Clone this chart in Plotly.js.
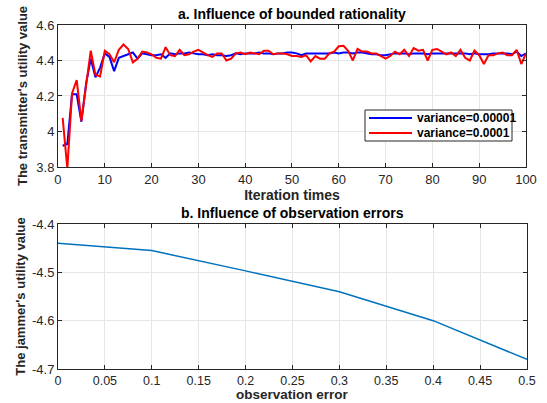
<!DOCTYPE html>
<html><head><meta charset="utf-8">
<script src="https://cdn.plot.ly/plotly-3.0.1.min.js"></script>
<style>html,body{margin:0;padding:0;background:#fff}#plot{width:547px;height:403px}</style>
</head><body><div id="plot"></div>
<script>
const iterations = Array.from({length:100},(_,i)=>i+1);
const blueSeries = [3.92,3.93,4.21,4.21,4.055,4.27,4.41,4.305,4.36,4.44,
4.42,4.34,4.415,4.425,4.435,4.445,4.41,4.44,4.435,4.43,
4.43,4.435,4.415,4.44,4.435,4.44,4.44,4.445,4.44,4.435,
4.435,4.43,4.435,4.43,4.43,4.425,4.43,4.44,4.435,4.44,
4.44,4.44,4.445,4.44,4.44,4.435,4.44,4.44,4.445,4.445,
4.44,4.43,4.44,4.44,4.44,4.44,4.44,4.44,4.445,4.44,
4.445,4.445,4.44,4.445,4.445,4.44,4.435,4.435,4.43,4.43,
4.435,4.44,4.44,4.44,4.435,4.44,4.44,4.44,4.435,4.44,
4.44,4.44,4.44,4.44,4.44,4.44,4.44,4.435,4.44,4.435,
4.435,4.435,4.44,4.44,4.44,4.44,4.435,4.45,4.425,4.44];
const redSeries = [4.077,3.79,4.215,4.29,4.06,4.25,4.455,4.32,4.31,4.455,
4.435,4.39,4.46,4.49,4.465,4.39,4.41,4.45,4.445,4.435,
4.415,4.41,4.475,4.43,4.425,4.46,4.43,4.435,4.45,4.46,
4.445,4.43,4.42,4.44,4.44,4.40,4.41,4.44,4.445,4.435,
4.445,4.44,4.435,4.455,4.455,4.435,4.44,4.44,4.435,4.425,
4.425,4.42,4.43,4.395,4.425,4.41,4.41,4.44,4.45,4.48,
4.483,4.455,4.40,4.465,4.45,4.45,4.44,4.44,4.425,4.41,
4.425,4.45,4.435,4.46,4.425,4.47,4.455,4.46,4.40,4.46,
4.465,4.45,4.435,4.445,4.425,4.46,4.415,4.40,4.456,4.43,
4.38,4.43,4.43,4.44,4.445,4.43,4.43,4.46,4.38,4.44];
const seriesNames = ['variance=0.00001','variance=0.0001'];
const seriesColors = ['#0000ff','#ff0000'];
const obsError = [0,0.1,0.2,0.3,0.4,0.5];
const jammerUtility = [-4.44,-4.455,-4.497,-4.54,-4.60,-4.68];
const topYTicks = [3.8,4,4.2,4.4,4.6];
const bottomYTicks = [-4.7,-4.6,-4.5,-4.4];
const bottomYLabels = ['-4.7','-4.6','-4.5','-4.4'];
const bottomXTicks = [0,0.05,0.1,0.15,0.2,0.25,0.3,0.35,0.4,0.45,0.5];
const bottomXLabels = ['0','0.05','0.1','0.15','0.2','0.25','0.3','0.35','0.4','0.45','0.5'];

const W = 547, H = 403;
const px = v => v / W, py = v => 1 - v / H;
const F = 'Liberation Sans, Arial, sans-serif';
const axCommon = {showline:true, mirror:'ticks', linecolor:'#262626', linewidth:1,
  ticks:'inside', ticklen:4, tickcolor:'#262626', showgrid:true, gridcolor:'#e6e6e6',
  zeroline:false, tickfont:{family:F,size:13,color:'#262626'}};
const traces = [
 {x:iterations,y:blueSeries,name:seriesNames[0],type:'scatter',mode:'lines',line:{color:seriesColors[0],width:2},xaxis:'x',yaxis:'y'},
 {x:iterations,y:redSeries,name:seriesNames[1],type:'scatter',mode:'lines',line:{color:seriesColors[1],width:2},xaxis:'x',yaxis:'y'},
 {x:obsError,y:jammerUtility,type:'scatter',mode:'lines',line:{color:'#0072BD',width:1.5},xaxis:'x2',yaxis:'y2'}
];
// custom legend (MATLAB-style compact box)
const legBox = {x0:365, x1:512, y0:110, y1:141};
const shapes = [
 {type:'rect',xref:'paper',yref:'paper',x0:px(legBox.x0),x1:px(legBox.x1),y0:py(legBox.y1),y1:py(legBox.y0),
  line:{color:'#262626',width:1},fillcolor:'#ffffff',layer:'above'}
];
const annotations = [
  {text:'<b>a. Influence of bounded rationality</b>',xref:'paper',yref:'paper',x:0.534,y:0.938,xanchor:'center',yanchor:'bottom',yshift:1,showarrow:false,font:{family:F,size:14,color:'#000'}},
  {text:'<b>b. Influence of observation errors</b>',xref:'paper',yref:'paper',x:0.534,y:py(224),xanchor:'center',yanchor:'bottom',yshift:1,showarrow:false,font:{family:F,size:14,color:'#000'}},
  {text:'<b>observation error</b>',xref:'paper',yref:'paper',x:0.534,y:0,xanchor:'center',yanchor:'bottom',yshift:-1,showarrow:false,font:{family:F,size:13.5,color:'#262626'}}
];
seriesNames.forEach((nm,i)=>{
  const yy = 118 + i*15;
  shapes.push({type:'line',xref:'paper',yref:'paper',x0:px(369),x1:px(412),y0:py(yy),y1:py(yy),
    line:{color:seriesColors[i],width:2},layer:'above'});
  annotations.push({text:'<b>'+nm+'</b>',xref:'paper',yref:'paper',x:px(415),y:py(yy),xanchor:'left',yanchor:'middle',
    showarrow:false,font:{family:F,size:12,color:'#000'}});
});
const layout = {
 width:W,height:H,margin:{l:0,r:0,t:0,b:0},paper_bgcolor:'#fff',plot_bgcolor:'#fff',
 font:{family:F,color:'#262626'},showlegend:false,
 xaxis:Object.assign({},axCommon,{domain:[0.106,0.9616],anchor:'y',range:[0,100],dtick:10,tick0:0,
   title:{text:'<b>Iteration times</b>',font:{family:F,size:14,color:'#262626'},standoff:3}}),
 yaxis:Object.assign({},axCommon,{domain:[0.5856,0.938],anchor:'x',range:[3.8,4.6],tickvals:topYTicks,
   title:{text:"<b>The transmitter's utility value</b>",font:{family:F,size:13,color:'#262626'},standoff:5}}),
 xaxis2:Object.assign({},axCommon,{domain:[0.106,0.9634],anchor:'y2',range:[0,0.5],tickvals:bottomXTicks,ticktext:bottomXLabels,
   tickfont:{family:F,size:12.5,color:'#262626'}}),
 yaxis2:Object.assign({},axCommon,{domain:[py(369),py(224)],anchor:'x2',range:[-4.7,-4.4],tickvals:bottomYTicks,ticktext:bottomYLabels,
   title:{text:"<b>The jammer's utility value</b>",font:{family:F,size:13,color:'#262626'},standoff:3}}),
 shapes:shapes, annotations:annotations
};
Plotly.newPlot('plot',traces,layout,{displayModeBar:false,staticPlot:true});
</script></body></html>
